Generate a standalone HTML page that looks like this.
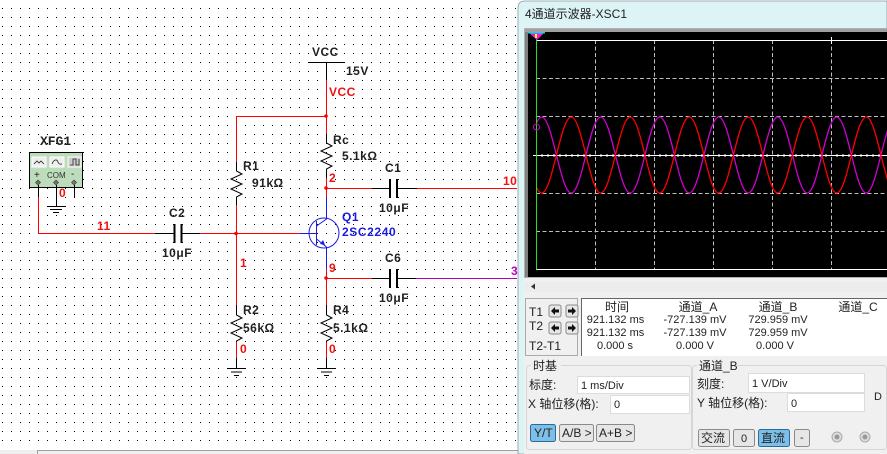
<!DOCTYPE html>
<html><head><meta charset="utf-8">
<style>
html,body{margin:0;padding:0;background:#fff;width:887px;height:454px;overflow:hidden}
svg{display:block;position:absolute;left:0;top:0}
text{font-family:"Liberation Sans","Noto Sans CJK SC",sans-serif}
.k{font-size:12px;font-weight:bold;fill:#222;letter-spacing:.5px}
.r{font-size:12px;font-weight:bold;fill:#f01010;letter-spacing:.5px}
.b{font-size:12px;font-weight:bold;fill:#1a1ae0;letter-spacing:.6px}
.t{font-size:11px;fill:#222}
.c{font-size:12px;fill:#222}
.w{fill:none;stroke:#f00;stroke-width:1}
.l{fill:none;stroke:#000;stroke-width:1}
.u{fill:none;stroke:#1a1ae0;stroke-width:1}
.btn{fill:#e6e6e6;stroke:#8a8a8a}
.blue{fill:#7cc0ea;stroke:#2c6a95}
.inp{fill:#fff;stroke:#dcdcdc}
</style></head><body>
<svg width="887" height="454" viewBox="0 0 887 454" xmlns="http://www.w3.org/2000/svg">
<defs>
<pattern id="dots" x="2" y="8" width="9" height="9" patternUnits="userSpaceOnUse"><rect width="1" height="1" fill="#000"/></pattern>
<clipPath id="plot"><rect x="537" y="32" width="350" height="245"/></clipPath>
</defs>
<rect width="887" height="454" fill="#fff"/>
<rect x="0" y="0" width="518" height="448" fill="url(#dots)"/>
<rect x="0" y="450" width="518" height="4" fill="#efefef"/>
<path d="M37.5 454V450.5H518" fill="none" stroke="#a0a0a0"/>

<!-- XFG1 -->
<text x="40" y="145" style="font-family:'Liberation Mono',monospace;font-size:13px;font-weight:bold" fill="#222">XFG1</text>
<rect x="29.5" y="152.5" width="53" height="35" fill="#bddcbc" stroke="#000"/>
<rect x="32" y="157" width="14" height="10" fill="#eee" stroke="#fff"/>
<rect x="50" y="157" width="14" height="10" fill="#eee" stroke="#fff"/>
<rect x="68" y="157" width="13" height="10" fill="#ccc" stroke="#fff"/>
<path d="M34 164l3-3 2 2 2-2 3 3M52 164c2-5 5-5 6-2s3 2 4 2M70 165h3v-6h3v6h3v-6" fill="none" stroke="#222" stroke-width=".8"/>
<text x="34" y="178" font-size="10" fill="#222">+</text>
<text x="47" y="178" font-size="8" fill="#333">COM</text>
<text x="71" y="177" font-size="10" fill="#222">-</text>
<path d="M38 180l2.500 2.500-2.500 2.500-2.500-2.500zM56 180l2.500 2.500-2.500 2.500-2.500-2.500zM74 180l2.500 2.500-2.500 2.500-2.500-2.500z" fill="#777" stroke="#333" stroke-width=".6"/>
<path class="l" d="M38.500 185V197M56.500 185V206M74.500 185V197M47 206.500H66M50 209.500H62M53 212.500H59"/>
<text class="r" x="59" y="197">0</text>
<path class="w" d="M38.500 197V233.500H155"/>
<path d="M155 233.500H174M182 233.500H200" class="l"/>
<path d="M174.500 224V243M181.500 224V243" stroke="#000" stroke-width="2" fill="none"/>
<path class="w" d="M200 233.500H300"/>
<text class="r" x="97" y="230">11</text>
<text class="k" x="169" y="217">C2</text>
<text class="k" x="162" y="257">10μF</text>

<!-- R1 / R2 -->
<path class="w" d="M326 116.500H236.500V162M236.500 205V305M236.500 342V358"/>
<path class="l" d="M236.500 162V171L242 174 231 179 242 184 231 189 242 194 236.500 197V205"/>
<path class="l" d="M236.500 305V315L242 318 231 323 242 328 231 333 242 338 236.500 341V342M236.500 358V368"/>
<path class="l" d="M227 368.500H246M231 372H242M234 375.500H239"/>
<circle cx="236" cy="233.500" r="1.800" fill="#f00"/>
<text class="k" x="243" y="170">R1</text>
<text class="k" x="252" y="187">91kΩ</text>
<text class="r" x="240" y="267">1</text>
<text class="k" x="243" y="314">R2</text>
<text class="k" x="243" y="332">56kΩ</text>
<text class="r" x="240" y="353">0</text>

<!-- VCC -->
<text class="k" x="312" y="56">VCC</text>
<path class="l" d="M308 62.500H345M326.500 62.500V80"/>
<text class="k" x="346" y="75">15V</text>
<path class="w" d="M326.500 80V134"/>
<text class="r" x="329" y="96">VCC</text>
<circle cx="326" cy="116" r="1.800" fill="#f00"/>
<text class="k" x="333" y="144">Rc</text>
<text class="k" x="342" y="160">5.1kΩ</text>
<path class="l" d="M326.500 134V143L332 146 321 151 332 156 321 161 332 166 326.500 169V178"/>
<path class="w" d="M326.500 178V197"/>
<circle cx="326" cy="188" r="1.800" fill="#f00"/>
<text class="r" x="329" y="182">2</text>
<path class="w" d="M326 188.500H372M417 188.500H517"/>
<path class="l" d="M372 188.500H389M398 188.500H417"/>
<path d="M390 179V198M397 179V198" stroke="#000" stroke-width="2" fill="none"/>
<text class="k" x="385" y="172">C1</text>
<text class="k" x="379" y="212">10μF</text>
<text class="r" x="503" y="185">10</text>

<!-- Q1 -->
<path class="u" d="M326.500 197V219L316.500 226M300 233.500H316.500M316.500 221V245M316.500 239L326.500 247V269"/>
<circle cx="324" cy="233" r="15" fill="none" stroke="#1a1ae0" stroke-width="1"/>
<path d="M325 245l-5-1 3-4z" fill="#1a1ae0"/>
<text class="b" x="342" y="221">Q1</text>
<text class="b" x="342" y="236">2SC2240</text>

<!-- bottom right -->
<path class="w" d="M326.500 269V305"/>
<circle cx="326" cy="278" r="1.800" fill="#f00"/>
<text class="r" x="329" y="272">9</text>
<path class="w" d="M326 278.500H372"/>
<path class="l" d="M372 278.500H389M398 278.500H416"/>
<path d="M390 269V288M397 269V288" stroke="#000" stroke-width="2" fill="none"/>
<path d="M416 278.500H517" stroke="#b000b8" stroke-width="1"/>
<text x="511" y="275" font-size="12" font-weight="bold" fill="#c000c0">3</text>
<text class="k" x="385" y="262">C6</text>
<text class="k" x="379" y="302">10μF</text>
<path class="l" d="M326.500 305V315L332 318 321 323 332 328 321 333 332 338 326.500 341V342M326.500 358V368"/>
<path class="w" d="M326.500 342V358"/>
<path class="l" d="M317 368.500H336M321 372H332M324 375.500H329"/>
<text class="k" x="333" y="314">R4</text>
<text class="k" x="333" y="332">5.1kΩ</text>
<text class="r" x="329" y="353">0</text>

<!-- Scope window -->
<path d="M518 454V8Q518 1 525 1H887V454Z" fill="#dcf4f6" stroke="#8a9a9c" stroke-width=".8"/>
<text x="525" y="18" font-size="12" fill="#222">4通道示波器-XSC1</text>
<rect x="524" y="28" width="363" height="426" fill="#f0f0f0"/>
<rect x="524" y="28" width="363" height="250" fill="#b0b0b0"/>
<rect x="525" y="29" width="3" height="248" fill="#808080"/>
<rect x="525" y="29" width="362" height="3" fill="#a0a0a0"/>
<rect x="528" y="32" width="359" height="245" fill="#000"/>

<path d="M595.500 40V269M654.500 40V269M713.500 40V269M772.500 40V269M831.500 40V269M536 78.500H887M536 116.500H887M536 193.500H887M536 231.500H887" stroke="#bdbdbd" stroke-dasharray="4 2.500" fill="none"/>
<path d="M536 40.500H887M533 155.500H887M536 269.500H887" stroke="#fff" fill="none"/>
<path d="M542 154V157M548 154V157M554 154V157M560 154V157M566 154V157M572 154V157M578 154V157M584 154V157M590 154V157M601 154V157M607 154V157M613 154V157M619 154V157M625 154V157M631 154V157M637 154V157M643 154V157M649 154V157M660 154V157M666 154V157M672 154V157M678 154V157M684 154V157M690 154V157M696 154V157M702 154V157M708 154V157M719 154V157M725 154V157M731 154V157M737 154V157M743 154V157M749 154V157M755 154V157M761 154V157M767 154V157M778 154V157M784 154V157M790 154V157M796 154V157M802 154V157M808 154V157M814 154V157M820 154V157M826 154V157M837 154V157M843 154V157M849 154V157M855 154V157M861 154V157M867 154V157M873 154V157M879 154V157M831.500 37V44" stroke="#fff" fill="none"/>

<g clip-path="url(#plot)" fill="none" stroke-width="1.300">
<path stroke="#d000d0" d="M512.200 193c10.740 0 18.760-76 29.500-76c10.740 0 18.760 76 29.500 76c10.740 0 18.760-76 29.500-76c10.740 0 18.760 76 29.500 76c10.740 0 18.760-76 29.500-76c10.740 0 18.760 76 29.500 76c10.740 0 18.760-76 29.500-76c10.740 0 18.760 76 29.500 76c10.740 0 18.760-76 29.500-76c10.740 0 18.760 76 29.500 76c10.740 0 18.760-76 29.500-76c10.740 0 18.760 76 29.500 76c10.740 0 18.760-76 29.500-76c10.740 0 18.760 76 29.500 76"/>
<path stroke="#ff0000" d="M512.200 117c10.740 0 18.760 76 29.500 76c10.740 0 18.760-76 29.500-76c10.740 0 18.760 76 29.500 76c10.740 0 18.760-76 29.500-76c10.740 0 18.760 76 29.500 76c10.740 0 18.760-76 29.500-76c10.740 0 18.760 76 29.500 76c10.740 0 18.760-76 29.500-76c10.740 0 18.760 76 29.500 76c10.740 0 18.760-76 29.500-76c10.740 0 18.760 76 29.500 76c10.740 0 18.760-76 29.500-76c10.740 0 18.760 76 29.500 76c10.740 0 18.760-76 29.500-76"/>
</g>
<path d="M536.500 38V269.500" stroke="#22e022" stroke-width="1" fill="none"/>
<circle cx="536.500" cy="127" r="3" fill="none" stroke="#d000d0"/>
<path d="M528 32H545L537 40Z" fill="#f018e0"/>
<rect x="528" y="32" width="17" height="1.500" fill="#10d8e0"/>
<rect x="535" y="34" width="2" height="4" fill="#ff0"/>

<!-- scrollbar -->
<rect x="524" y="279" width="363" height="17" fill="#f0f0f0"/>
<rect x="525" y="282" width="362" height="10" fill="#ececec"/>
<path d="M531 286.500l4-3v6z" fill="#333"/>

<!-- T box -->
<rect x="525.500" y="298.500" width="52" height="57" fill="#f0f0f0" stroke="#aaa"/>
<text x="529" y="316" font-size="12" fill="#222">T1</text>
<text x="529" y="330" font-size="12" fill="#222">T2</text>
<text x="529" y="350" font-size="12" fill="#222">T2-T1</text>
<g>
<rect x="549" y="305" width="12" height="12" rx="2" class="btn"/><rect x="566" y="305" width="12" height="12" rx="2" class="btn"/>
<rect x="549" y="322" width="12" height="12" rx="2" class="btn"/><rect x="566" y="322" width="12" height="12" rx="2" class="btn"/>
<path d="M551 311l4-4v2.500h4v3h-4v2.500zM576 311l-4-4v2.500h-4v3h4v2.500zM551 328l4-4v2.500h4v3h-4v2.500zM576 328l-4-4v2.500h-4v3h4v2.500z" fill="#111"/>
</g>
<!-- readings -->
<rect x="581" y="298" width="306" height="58" fill="#fff"/>
<path d="M581.500 356V298.500H887" stroke="#666" fill="none"/>
<g text-anchor="middle" font-size="11" fill="#222">
<text x="617" y="311" font-size="12">时间</text>
<text x="698" y="311" font-size="12">通道_A</text>
<text x="778" y="311" font-size="12">通道_B</text>
<text x="858" y="311" font-size="12">通道_C</text>
<text x="615.500" y="323">921.132 ms</text>
<text x="695" y="323">-727.139 mV</text>
<text x="778" y="323">729.959 mV</text>
<text x="615.500" y="336">921.132 ms</text>
<text x="695" y="336">-727.139 mV</text>
<text x="778" y="336">729.959 mV</text>
<text x="615" y="349">0.000 s</text>
<text x="695" y="349">0.000 V</text>
<text x="775" y="349">0.000 V</text>
</g>

<!-- groups -->
<rect x="526.500" y="365.500" width="165" height="84" rx="3" fill="none" stroke="#d6d6d6"/>
<rect x="692.500" y="365.500" width="194" height="84" rx="3" fill="none" stroke="#d6d6d6"/>
<rect x="531" y="360" width="30" height="12" fill="#f0f0f0"/>
<rect x="697" y="360" width="40" height="12" fill="#f0f0f0"/>
<text class="c" x="533" y="370">时基</text>
<text class="c" x="699" y="370">通道_B</text>
<text class="c" x="529" y="389">标度:</text>
<text class="c" x="528" y="408">X 轴位移(格):</text>
<rect x="577.500" y="376.500" width="112" height="17" class="inp"/>
<rect x="610.500" y="395.500" width="79" height="18" class="inp"/>
<text class="t" x="581" y="389">1 ms/Div</text>
<text class="t" x="614" y="408">0</text>
<text class="c" x="697" y="388">刻度:</text>
<text class="c" x="697" y="407">Y 轴位移(格):</text>
<rect x="748.500" y="373.500" width="116" height="19" class="inp"/>
<rect x="787.500" y="393.500" width="77" height="18" class="inp"/>
<text class="t" x="752" y="387">1 V/Div</text>
<text class="t" x="791" y="407">0</text>
<text class="t" x="874" y="400">D</text>

<rect x="530.500" y="424.500" width="25" height="17" rx="2" class="blue"/>
<rect x="559.500" y="424.500" width="34" height="17" rx="2" class="btn"/>
<rect x="596.500" y="424.500" width="38" height="17" rx="2" class="btn"/>
<text class="c" x="534" y="437">Y/T</text>
<text class="c" x="562" y="437">A/B &gt;</text>
<text class="c" x="599" y="437">A+B &gt;</text>

<rect x="698.500" y="429.500" width="31" height="17" rx="2" class="btn"/>
<rect x="733.500" y="429.500" width="21" height="17" rx="2" class="btn"/>
<rect x="758.500" y="429.500" width="31" height="17" rx="2" class="blue"/>
<rect x="794.500" y="429.500" width="15" height="17" rx="2" class="btn"/>
<text class="c" x="701" y="442">交流</text>
<text class="t" x="741" y="442">0</text>
<text class="c" x="761" y="442">直流</text>
<text class="t" x="800" y="441">-</text>
<circle cx="837" cy="437" r="5" fill="#ddd" stroke="#aaa"/><circle cx="837" cy="437" r="2.500" fill="#999"/>
<circle cx="865" cy="437" r="5" fill="#ddd" stroke="#aaa"/><circle cx="865" cy="437" r="2.500" fill="#999"/>
</svg>
</body></html>
